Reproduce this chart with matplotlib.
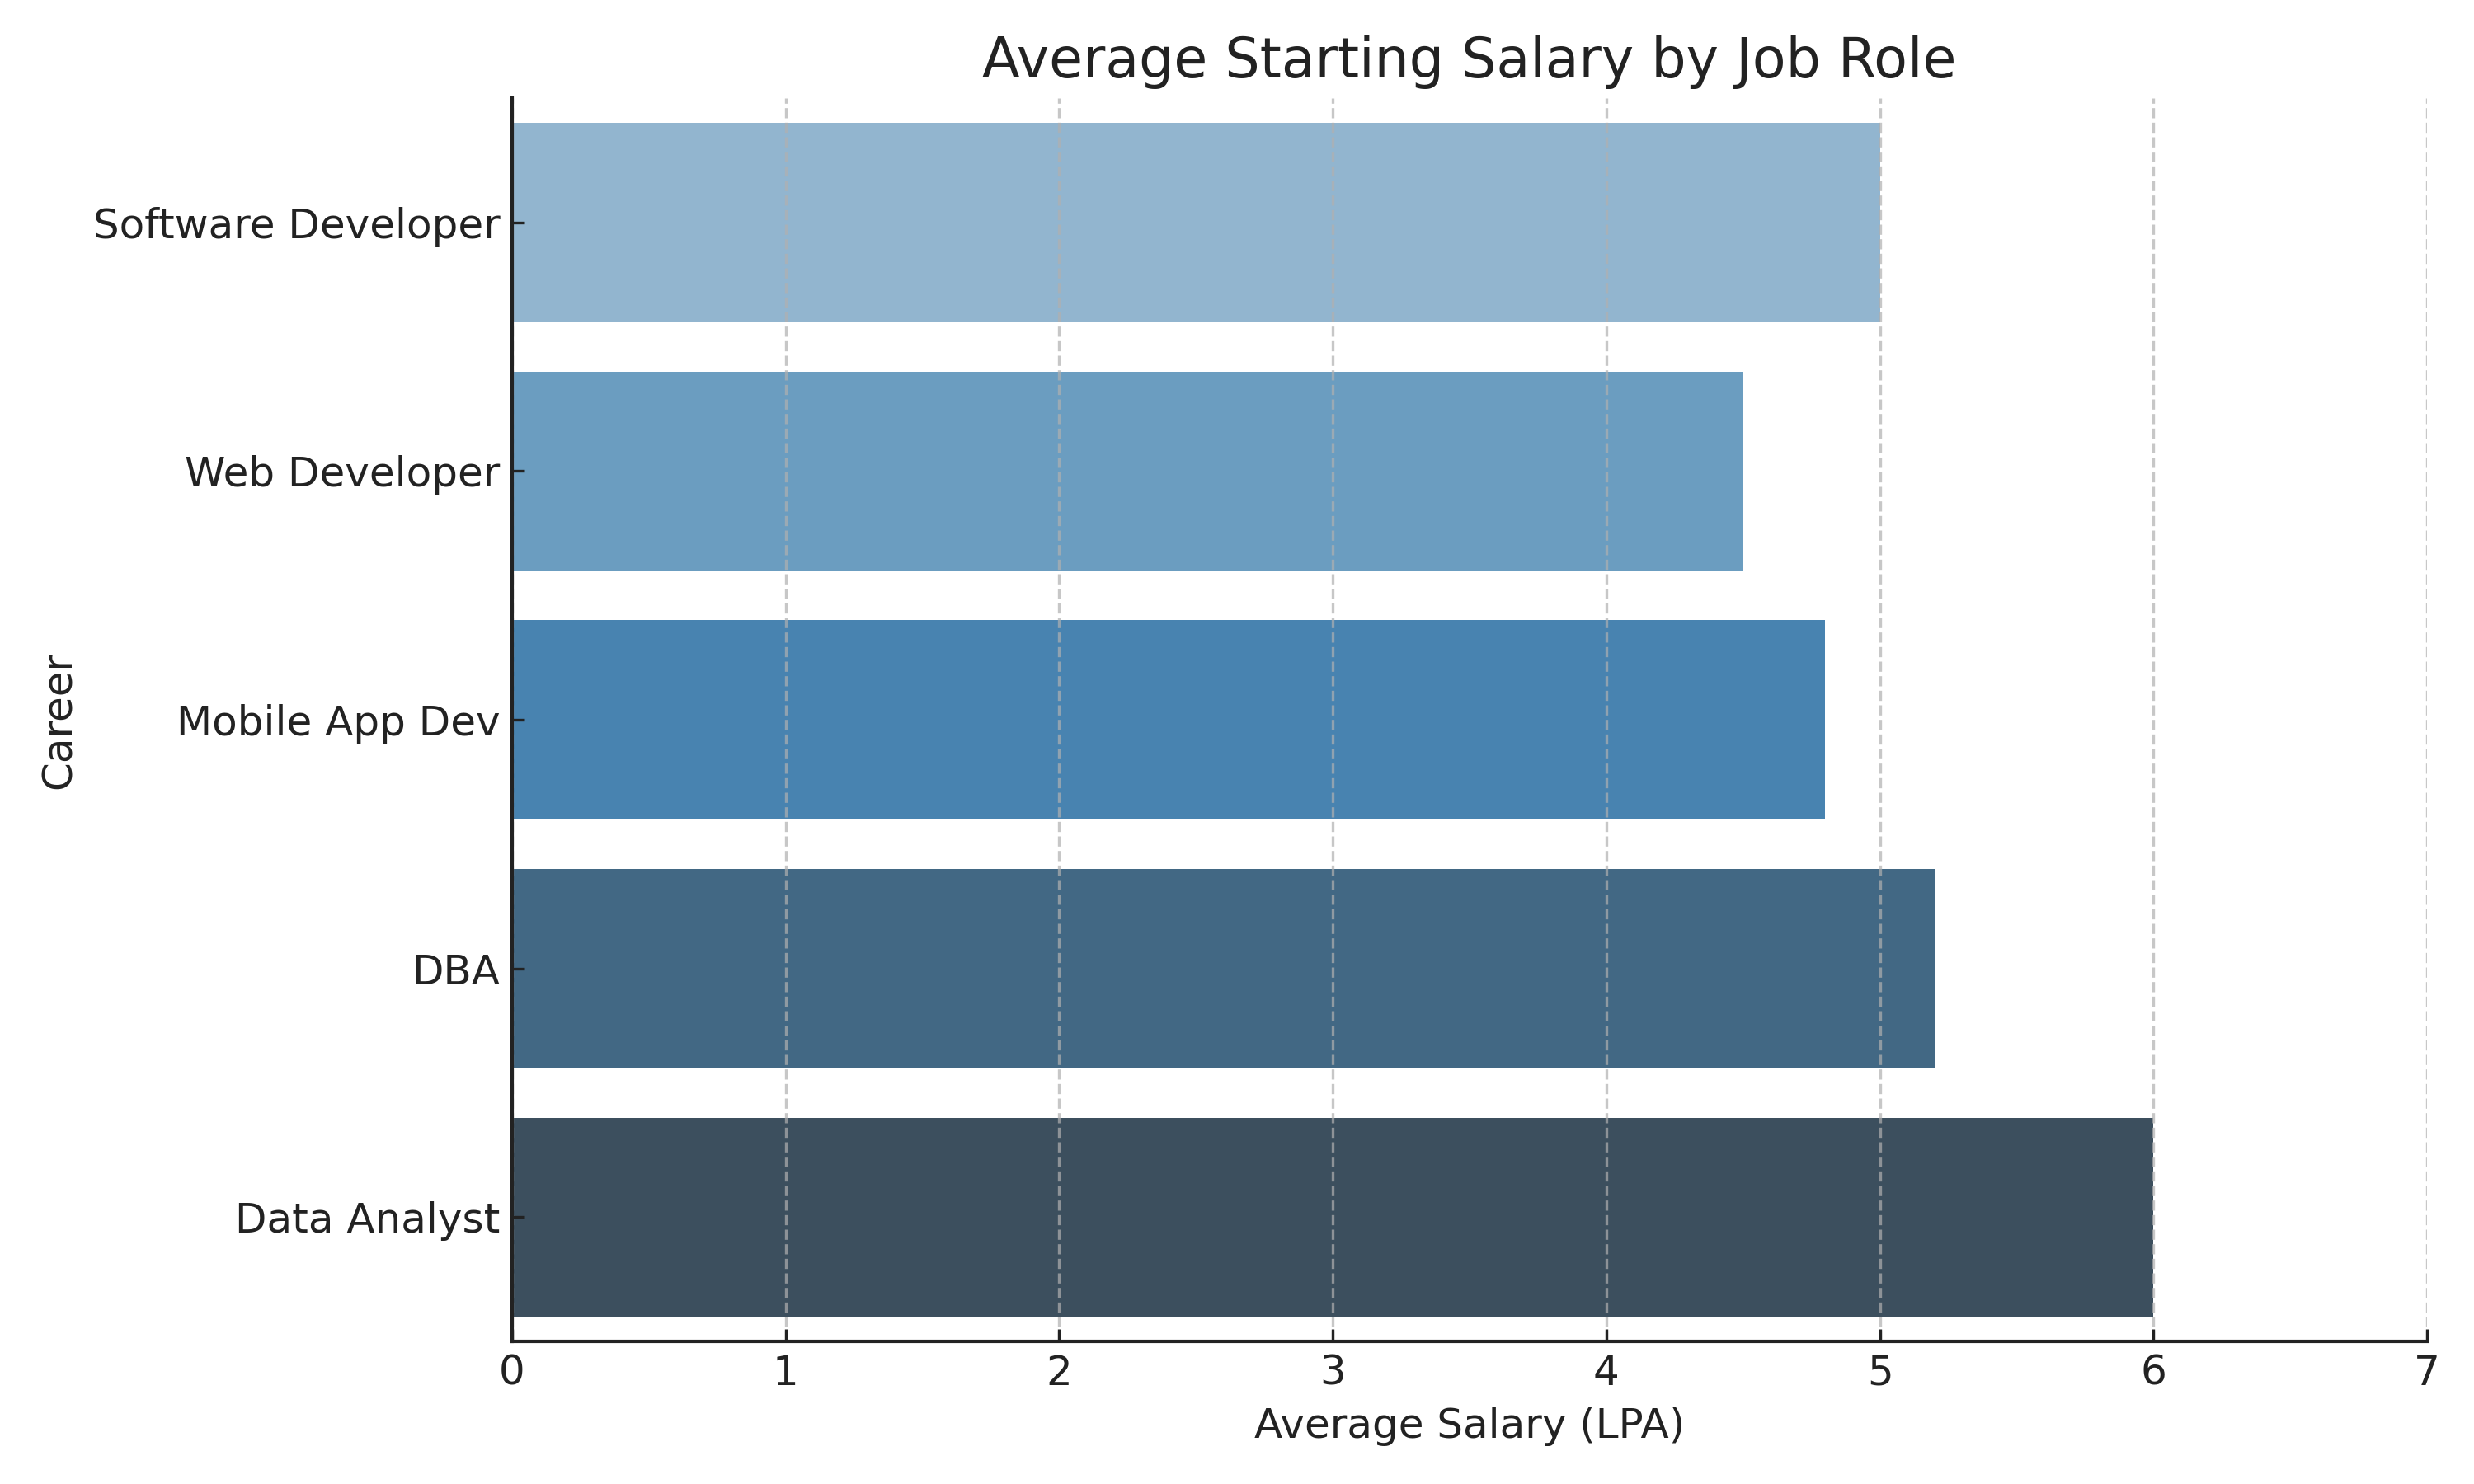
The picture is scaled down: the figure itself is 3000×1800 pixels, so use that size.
import matplotlib
matplotlib.use("Agg")
import matplotlib.pyplot as plt

careers = ["Software Developer", "Web Developer", "Mobile App Dev", "DBA", "Data Analyst"]
salaries = [5.0, 4.5, 4.8, 5.2, 6.0]
bar_colors = ["#92b5cf", "#6b9dc0", "#4883b0", "#426884", "#3c4f5e"]

plt.rcParams['font.family'] = ['DejaVu Sans']
plt.rcParams['text.color'] = '#222222'
plt.rcParams['axes.labelcolor'] = '#222222'
plt.rcParams['xtick.color'] = '#222222'
plt.rcParams['ytick.color'] = '#222222'
plt.rcParams['axes.edgecolor'] = '#222222'
plt.rcParams['xtick.direction'] = 'in'
plt.rcParams['ytick.direction'] = 'in'

fig, ax = plt.subplots(figsize=(10, 6), dpi=300)
ax.barh(careers, salaries, color=bar_colors, height=0.8)
ax.set_ylim(len(careers) - 0.5, -0.5)
ax.set_xlim(0, 7)

ax.set_title("Average Starting Salary by Job Role", fontsize=16)
ax.set_xlabel("Average Salary (LPA)", fontsize=12)
ax.set_ylabel("Career", fontsize=12)
ax.tick_params(labelsize=12)
ax.grid(axis='x', linestyle='--', alpha=0.7, color='#b0b0b0', linewidth=0.8)
ax.spines['top'].set_visible(False)
ax.spines['right'].set_visible(False)
for s in ['left', 'bottom']:
    ax.spines[s].set_zorder(5)
    ax.spines[s].set_linewidth(1.0)

fig.subplots_adjust(left=0.207, right=0.981, top=0.934, bottom=0.096)
fig.savefig("out.png")
